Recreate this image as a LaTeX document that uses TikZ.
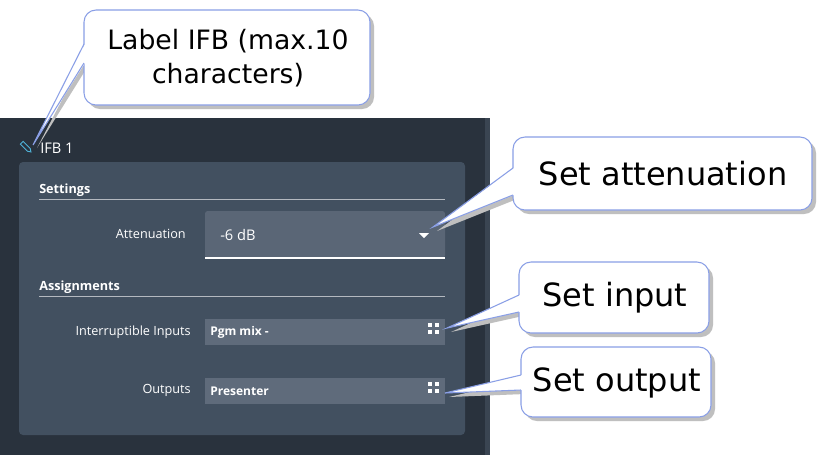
\documentclass[tikz,border=0pt]{standalone}
\usepackage{fontspec}
\setmainfont{Open Sans}
\newfontfamily\callfont{DejaVu Sans}
\begin{document}
\begin{tikzpicture}[x=0.75pt,y=-0.75pt,
  ui/.style={text=white,font=\fontsize{9.5}{11}\selectfont,inner sep=0},
  uib/.style={ui,font=\fontsize{9.5}{11}\selectfont\bfseries},
  call/.style={fill=white,draw=cbord,line width=0.8pt,rounded corners=9},
  ctext/.style={font=\callfont\fontsize{24}{28}\selectfont,align=center,inner sep=0,text=black},
  tailedge/.style={draw=cbord,line width=0.8pt},
  shade/.style={fill=black!25,rounded corners=9}]
\definecolor{dark}{HTML}{29323D}
\definecolor{strip}{HTML}{3A4552}
\definecolor{inner}{HTML}{425060}
\definecolor{drop}{HTML}{5A6676}
\definecolor{field}{HTML}{5F6B7B}
\definecolor{cbord}{HTML}{8A9FE6}
\definecolor{pencil}{HTML}{4FB3D9}
\useasboundingbox (0,0) rectangle (827,455);
\fill[white] (0,0) rectangle (827,455);
% panel
\fill[dark] (0,118) rectangle (490,455);
\fill[strip] (485,118) rectangle (490,455);
\fill[inner,rounded corners=3] (19,162) rectangle (465,435);
\draw[pencil,line width=0.7pt,rotate around={-45:(26,147)}] (20,145) -- (30,145) -- (33,147) -- (30,149) -- (20,149) -- cycle;
\node[ui,anchor=west,font=\fontsize{11}{13}\selectfont] (ifb) at (40,148) {IFB 1};
\node[uib,anchor=west] (settings) at (39,190) {Settings};
\draw[white!60!inner,line width=0.6pt] (39,199) -- (445,199);
\node[ui,anchor=east,font=\fontsize{9.5}{12}\selectfont] (att) at (186,234) {Attenuation};
\fill[drop,rounded corners=2] (205,211) rectangle (445,258);
\draw[white,line width=0.8pt] (205,258) -- (445,258);
\node[ui,anchor=west,font=\fontsize{11}{13}\selectfont] (val) at (220,235) {-6 dB};
\fill[white] (419,233) -- (429,233) -- (424,238) -- cycle;
\coordinate (attp) at (433,227);
\node[uib,anchor=west] (assign) at (39,287) {Assignments};
\draw[white!60!inner,line width=0.6pt] (39,296) -- (445,296);
\node[ui,anchor=east,font=\fontsize{9.5}{12}\selectfont] (ii) at (191,332) {Interruptible Inputs};
\fill[field] (205,319) rectangle (445,345);
\node[ui,anchor=west,font=\fontsize{9}{11}\selectfont\bfseries] (pgm) at (210,332) {Pgm mix -};
\node[ui,anchor=east,font=\fontsize{9.5}{12}\selectfont] (out) at (191,390) {Outputs};
\fill[field] (205,378) rectangle (445,404);
\node[ui,anchor=west,font=\fontsize{9}{11}\selectfont\bfseries] (pres) at (210,391) {Presenter};
\foreach \y in {319,378}{
  \foreach \dx in {0,7}{\foreach \dy in {9,16}{
   \fill[white] (428+\dx,\y+\dy-1) rectangle ++(4,-4);}}}
\coordinate (inp) at (447,328);
\coordinate (outp) at (445,393);
\coordinate (pen) at (33,145);
% callouts: shadows
\fill[shade] (88,14) rectangle (374,109);
\fill[shade] (517,141) rectangle (816,214);
\fill[shade] (523,266) rectangle (713,337);
\fill[shade] (525,351) rectangle (715,421);
\fill[black!25] (37,148) -- (88,50) -- (88,66) -- cycle;
\fill[black!25] (437,231) -- (517,172) -- (517,199) -- cycle;
\fill[black!25] (451,332) -- (523,299) -- (523,316) -- cycle;
\fill[black!25] (449,397) -- (525,379) -- (525,394) -- cycle;
% boxes
\draw[call] (84,10) rectangle (370,105);
\draw[call] (513,137) rectangle (812,210);
\draw[call] (519,262) rectangle (709,333);
\draw[call] (521,347) rectangle (711,417);
% tails
\fill[white] (pen) -- (85,44) -- (85,63) -- cycle;
\draw[tailedge] (84,44) -- (pen) -- (84,63);
\fill[white] (attp) -- (514,168) -- (514,195) -- cycle;
\draw[tailedge] (513,168) -- (attp) -- (513,195);
\fill[white] (inp) -- (520,295) -- (520,312) -- cycle;
\draw[tailedge] (519,295) -- (inp) -- (519,312);
\fill[white] (outp) -- (522,375) -- (522,390) -- cycle;
\draw[tailedge] (521,375) -- (outp) -- (521,390);
\node[ctext,font=\callfont\fontsize{20}{26}\selectfont] (c1) at (228,58) {Label IFB (max.10\\characters)};
\node[ctext] (c2) at (663,174) {Set attenuation};
\node[ctext] (c3) at (615,298) {Set input};
\node[ctext] (c4) at (617,383) {Set output};
\end{tikzpicture}
\end{document}
